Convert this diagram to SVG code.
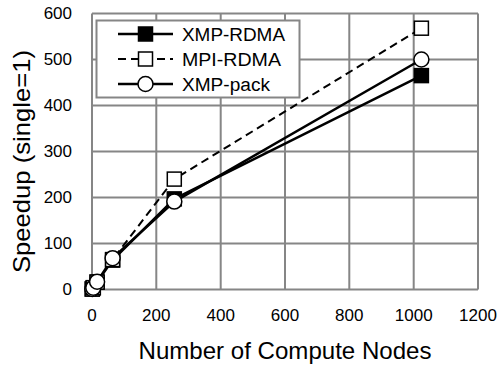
<svg xmlns="http://www.w3.org/2000/svg" width="499" height="367" viewBox="0 0 499 367">
<defs>
<style>
.grid{stroke:#868686;stroke-width:2;fill:none}
.tick{font-family:"Liberation Sans",Arial,sans-serif;font-size:17px;fill:#000}
.title{font-family:"Liberation Sans",Arial,sans-serif;font-size:24px;fill:#000}
.leg{font-family:"Liberation Sans",Arial,sans-serif;font-size:18px;fill:#000}
.solid{stroke:#000;stroke-width:2.5;fill:none;stroke-linejoin:round}
.dash{stroke:#000;stroke-width:2;fill:none;stroke-dasharray:8,5}
.msq{stroke:#000;stroke-width:1.5}
</style>
<rect id="fsq" x="-7" y="-7" width="14" height="14" fill="#000" stroke="#000" stroke-width="1.5"/>
<rect id="osq" x="-7" y="-7" width="14" height="14" fill="#fff" stroke="#000" stroke-width="1.5"/>
<circle id="oci" r="7.5" fill="#fff" stroke="#000" stroke-width="1.5"/>
</defs>
<rect width="499" height="367" fill="#fff"/>
<g id="grid">
<path class="grid" d="M92,13.5V289.5M156.3,13.5V289.5M220.7,13.5V289.5M285,13.5V289.5M349.3,13.5V289.5M413.7,13.5V289.5M478,13.5V289.5"/>
<path class="grid" d="M92,13.5H478M92,59.5H478M92,105.5H478M92,151.5H478M92,197.5H478M92,243.5H478M92,289.5H478"/>
</g>
<g id="y-ticks" class="tick" text-anchor="end">
<text x="72" y="19">600</text>
<text x="72" y="65">500</text>
<text x="72" y="111">400</text>
<text x="72" y="157">300</text>
<text x="72" y="203">200</text>
<text x="72" y="249">100</text>
<text x="72" y="295">0</text>
</g>
<g id="x-ticks" class="tick" text-anchor="middle">
<text x="92" y="320.5">0</text>
<text x="156.3" y="320.5">200</text>
<text x="220.7" y="320.5">400</text>
<text x="285" y="320.5">600</text>
<text x="349.3" y="320.5">800</text>
<text x="413.7" y="320.5">1000</text>
<text x="478" y="320.5">1200</text>
</g>
<g id="axis-titles">
<text class="title" x="285" y="359" text-anchor="middle" textLength="293" lengthAdjust="spacingAndGlyphs">Number of Compute Nodes</text>
<text class="title" transform="rotate(-90)" x="-161.5" y="30" text-anchor="middle" textLength="223" lengthAdjust="spacingAndGlyphs">Speedup (single=1)</text>
</g>
<g id="connectors">
<polyline class="solid" points="92.3,289 93.3,287.7 97.1,282.1 112.6,260.1 174.3,198.9 421.4,75.6"/>
<polyline class="dash" points="92.3,289 93.3,287.7 97.1,282.1 112.6,259.6 174.3,179.1 421.4,28.2"/>
<polyline class="solid" points="92.3,289 93.3,287.7 97.1,281.7 112.6,258.2 174.3,201.6 421.4,59.5"/>
</g>
<g id="series-XMP-RDMA">
<use href="#fsq" x="92.3" y="289"/>
<use href="#fsq" x="93.3" y="287.7"/>
<use href="#fsq" x="97.1" y="282.1"/>
<use href="#fsq" x="112.6" y="260.1"/>
<use href="#fsq" x="174.3" y="198.9"/>
<use href="#fsq" x="421.4" y="75.6"/>
</g>
<g id="series-MPI-RDMA">
<use href="#osq" x="92.3" y="289"/>
<use href="#osq" x="93.3" y="287.7"/>
<use href="#osq" x="97.1" y="282.1"/>
<use href="#osq" x="112.6" y="259.6"/>
<use href="#osq" x="174.3" y="179.1"/>
<use href="#osq" x="421.4" y="28.2"/>
</g>
<g id="series-XMP-pack">
<use href="#oci" x="92.3" y="289"/>
<use href="#oci" x="93.3" y="287.7"/>
<use href="#oci" x="97.1" y="281.7"/>
<use href="#oci" x="112.6" y="258.2"/>
<use href="#oci" x="174.3" y="201.6"/>
<use href="#oci" x="421.4" y="59.5"/>
</g>
<g id="legend">
<rect x="96.5" y="20.5" width="203" height="77" fill="#fff" stroke="#868686" stroke-width="2"/>
<line class="solid" x1="118" y1="34" x2="173" y2="34"/>
<use href="#fsq" x="145.5" y="34"/>
<text class="leg" x="182" y="40.5" textLength="103" lengthAdjust="spacingAndGlyphs">XMP-RDMA</text>
<line class="dash" x1="118" y1="59" x2="173" y2="59"/>
<use href="#osq" x="145.5" y="59"/>
<text class="leg" x="182" y="65.5" textLength="99" lengthAdjust="spacingAndGlyphs">MPI-RDMA</text>
<line class="solid" x1="118" y1="84" x2="173" y2="84"/>
<use href="#oci" x="145.5" y="84"/>
<text class="leg" x="182" y="90.5" textLength="88" lengthAdjust="spacingAndGlyphs">XMP-pack</text>
</g>
</svg>
